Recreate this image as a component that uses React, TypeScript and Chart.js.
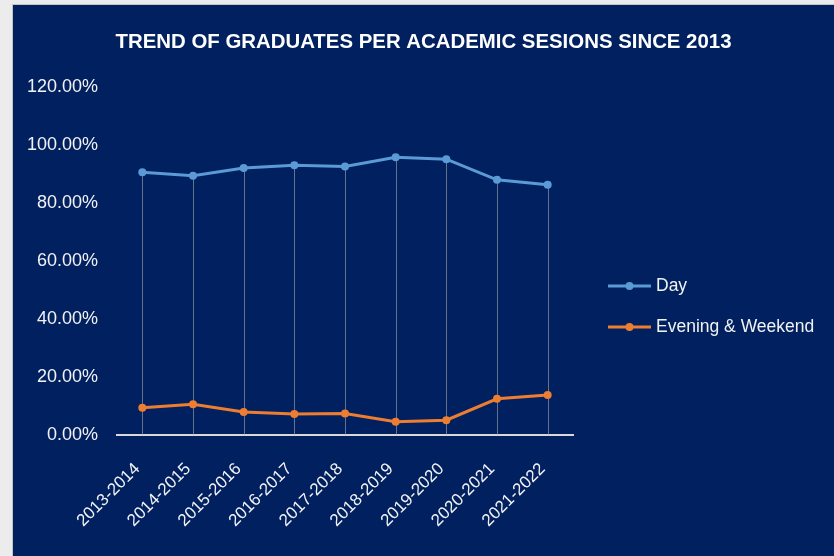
import React, { useEffect, useRef } from "react";
import { Chart, registerables } from "chart.js";

Chart.register(...registerables);

const titleText = "TREND OF GRADUATES PER ACADEMIC SESIONS SINCE 2013";
const categories = [
  "2013-2014",
  "2014-2015",
  "2015-2016",
  "2016-2017",
  "2017-2018",
  "2018-2019",
  "2019-2020",
  "2020-2021",
  "2021-2022",
];
const seriesNames = ["Day", "Evening & Weekend"];
const daySeries = [90.6, 89.4, 92.1, 93.0, 92.6, 95.8, 95.1, 88.0, 86.3];
const eveningSeries = [9.4, 10.6, 7.9, 7.2, 7.4, 4.6, 5.1, 12.5, 13.8];
const yTickValues = [0, 20, 40, 60, 80, 100, 120];

const NAVY = "#002060";
const DAY_COLOR = "#5b9bd5";
const EVE_COLOR = "#ed7d31";
const TEXT_COLOR = "#f2f2f2";
const FONT = "'Liberation Sans', Arial, sans-serif";

const dropLinesPlugin = {
  id: "dropLines",
  beforeDatasetsDraw(chart: any) {
    const { ctx, scales } = chart;
    const metas = chart.data.datasets.map((_: any, i: number) => chart.getDatasetMeta(i));
    const n = chart.data.labels.length;
    ctx.save();
    ctx.strokeStyle = "rgba(170,170,170,0.6)";
    ctx.lineWidth = 1;
    for (let i = 0; i < n; i++) {
      const pts = metas.map((m: any) => m.data[i]).filter(Boolean);
      if (!pts.length) continue;
      const x = Math.round(pts[0].x) + 0.5;
      const top = Math.min(...pts.map((p: any) => p.y));
      ctx.beginPath();
      ctx.moveTo(x, top);
      ctx.lineTo(x, scales.y.bottom);
      ctx.stroke();
    }
    ctx.restore();
  },
};

const sideLegendPlugin = {
  id: "sideLegend",
  afterDraw(chart: any) {
    const { ctx, chartArea } = chart;
    const left = chartArea.right + 35;
    const firstY = chartArea.top + 199;
    const rowGap = 41;
    const sampleW = 43;
    ctx.save();
    chart.data.datasets.forEach((ds: any, i: number) => {
      const y = firstY + i * rowGap;
      ctx.strokeStyle = ds.borderColor;
      ctx.lineWidth = 3;
      ctx.beginPath();
      ctx.moveTo(left, y);
      ctx.lineTo(left + sampleW, y);
      ctx.stroke();
      ctx.fillStyle = ds.borderColor;
      ctx.beginPath();
      ctx.arc(left + sampleW / 2, y, 4, 0, Math.PI * 2);
      ctx.fill();
      ctx.fillStyle = TEXT_COLOR;
      ctx.font = `17.5px ${FONT}`;
      ctx.textAlign = "left";
      ctx.textBaseline = "middle";
      ctx.fillText(ds.label, left + sampleW + 5, y);
    });
    ctx.restore();
  },
};

export default function App() {
  const canvasRef = useRef<HTMLCanvasElement | null>(null);

  useEffect(() => {
    document.body.style.margin = "0";
    const canvas = canvasRef.current;
    if (!canvas) return;
    const chart = new Chart(canvas, {
      type: "line",
      data: {
        labels: categories,
        datasets: [
          {
            label: seriesNames[0],
            data: daySeries,
            borderColor: DAY_COLOR,
            backgroundColor: DAY_COLOR,
            borderWidth: 3,
            pointRadius: 4,
            pointBorderWidth: 0,
            pointBackgroundColor: DAY_COLOR,
            tension: 0,
          },
          {
            label: seriesNames[1],
            data: eveningSeries,
            borderColor: EVE_COLOR,
            backgroundColor: EVE_COLOR,
            borderWidth: 3,
            pointRadius: 4,
            pointBorderWidth: 0,
            pointBackgroundColor: EVE_COLOR,
            tension: 0,
          },
        ],
      },
      options: {
        responsive: false,
        animation: false,
        layout: { padding: 0 },
        plugins: {
          legend: { display: false },
          tooltip: { enabled: false },
          title: {
            display: true,
            text: titleText,
            color: "#ffffff",
            font: { family: FONT, size: 20.4, weight: "bold" },
            padding: { top: 25, bottom: 32.5 },
          },
        },
        scales: {
          x: {
            type: "category",
            offset: true,
            grid: { display: false, drawTicks: false },
            border: { display: true, color: "#d9d9d9", width: 2 },
            ticks: {
              color: TEXT_COLOR,
              font: { family: FONT, size: 17 },
              minRotation: 45,
              maxRotation: 45,
              padding: 24,
              labelOffset: -5,
              autoSkip: false,
            },
            afterFit: (s: any) => {
              s.height = 121;
            },
          },
          y: {
            min: 0,
            max: 120,
            grid: { display: false, drawTicks: false },
            border: { display: false },
            ticks: {
              color: TEXT_COLOR,
              font: { family: FONT, size: 18 },
              padding: 19,
              callback: (v: any) => Number(v).toFixed(2) + "%",
            },
            afterBuildTicks: (s: any) => {
              s.ticks = yTickValues.map((v) => ({ value: v }));
            },
            afterFit: (s: any) => {
              s.width = 104;
            },
          },
          spacer: {
            type: "linear",
            position: "right",
            display: true,
            grid: { display: false, drawTicks: false },
            border: { display: false },
            ticks: { display: false },
            afterFit: (s: any) => {
              s.width = 261;
            },
          },
        },
      },
      plugins: [dropLinesPlugin, sideLegendPlugin],
    });
    return () => chart.destroy();
  }, []);

  return (
    <div style={{ position: "relative", width: 834, height: 556, background: "#ececec", overflow: "hidden" }}>
      <div
        style={{
          position: "absolute",
          left: 12,
          top: 4,
          width: 822,
          height: 552,
          borderLeft: "1px solid #c4c4c4",
          borderTop: "1px solid #c4c4c4",
          background: NAVY,
        }}
      >
        <canvas ref={canvasRef} width={821} height={551} style={{ display: "block" }} />
      </div>
    </div>
  );
}
